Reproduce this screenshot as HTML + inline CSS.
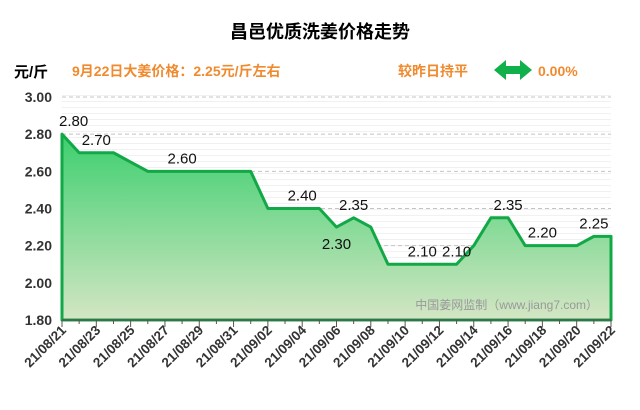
<!DOCTYPE html>
<html><head><meta charset="utf-8"><style>
body{margin:0;background:#fff;}
svg{display:block;font-family:"Liberation Sans","Noto Sans CJK SC",sans-serif;}
</style></head><body>
<svg id="c" width="640" height="410">
<defs><linearGradient id="g" x1="0" y1="0" x2="0" y2="1"><stop offset="0" stop-color="#3ccf6e"/><stop offset="1" stop-color="#d4e6c4"/></linearGradient>
<pattern id="st" width="10" height="6" patternUnits="userSpaceOnUse"><rect width="10" height="6" fill="#fff"/><rect y="5" width="10" height="1" fill="#f1f1f1"/></pattern></defs>
<text x="320" y="38" text-anchor="middle" font-size="18" font-weight="bold" fill="#000">昌邑优质洗姜价格走势</text>
<text x="14" y="77" font-size="15" font-weight="bold" fill="#000">元/斤</text>
<text x="72" y="76" font-size="14" font-weight="bold" fill="#f08a2e">9月22日大姜价格：2.25元/斤左右</text>
<text x="398" y="76" font-size="14" font-weight="bold" fill="#f08a2e">较昨日持平</text>
<path d="M494 70 L506 60 L506 66 L520 66 L520 60 L532 70 L520 80 L520 74 L506 74 L506 80 Z" fill="#10b04a"/>
<text x="538" y="76" font-size="14" font-weight="bold" fill="#f08a2e">0.00%</text>
<rect x="62" y="90" width="549" height="230" fill="url(#st)"/>
<g id="grid"></g><g id="area"></g><g id="axes"></g><g id="labels"></g>
<text x="598" y="309" text-anchor="end" font-size="12" fill="#999">中国姜网监制（www.jiang7.com）</text>
</svg>
<script>
const dates=["21/08/21","21/08/22","21/08/23","21/08/24","21/08/25","21/08/26","21/08/27","21/08/28","21/08/29","21/08/30","21/08/31","21/09/01","21/09/02","21/09/03","21/09/04","21/09/05","21/09/06","21/09/07","21/09/08","21/09/09","21/09/10","21/09/11","21/09/12","21/09/13","21/09/14","21/09/15","21/09/16","21/09/17","21/09/18","21/09/19","21/09/20","21/09/21","21/09/22"];
const prices=[2.80,2.70,2.70,2.70,2.65,2.60,2.60,2.60,2.60,2.60,2.60,2.60,2.40,2.40,2.40,2.40,2.30,2.35,2.30,2.10,2.10,2.10,2.10,2.10,2.20,2.35,2.35,2.20,2.20,2.20,2.20,2.25,2.25];
const yTicks=[1.80,2.00,2.20,2.40,2.60,2.80,3.00];
const labelIdx=[0,2,7,14,16,17,21,23,26,28,31];
const labelBelow=[16];
const NS="http://www.w3.org/2000/svg";
const X0=62,X1=611,Y0=320,Y1=97;
const xs=i=>X0+(X1-X0)*i/(dates.length-1);
const ys=v=>Y0-(v-1.8)/(3.0-1.8)*(Y0-Y1);
function mk(t,a,p){const e=document.createElementNS(NS,t);for(const k in a)e.setAttribute(k,a[k]);p.appendChild(e);return e;}
const grid=document.getElementById('grid'),axes=document.getElementById('axes'),area=document.getElementById('area'),lab=document.getElementById('labels');
yTicks.forEach(v=>{
 if(v>1.8){const l=mk('line',{x1:X0,x2:X1,y1:ys(v),y2:ys(v),stroke:'#c4c4c4','stroke-dasharray':'4,3'},grid);
 
 }
 const t=mk('text',{x:52,y:ys(v)+5,'text-anchor':'end','font-size':14,'font-weight':'bold',fill:'#333'},axes);t.textContent=v.toFixed(2);
 
 
});
let d='M'+xs(0)+' '+Y0;prices.forEach((v,i)=>d+=' L'+xs(i)+' '+ys(v));d+=' L'+xs(prices.length-1)+' '+Y0+' Z';
const a=mk('path',{d:d,fill:'url(#g)',stroke:'#12a848','stroke-width':3,'stroke-linejoin':'round'},area);


const ax=mk('line',{x1:X0,x2:X1,y1:Y0,y2:Y0,stroke:'#555','stroke-width':1.5},axes);


dates.forEach((s,i)=>{
 const tk=mk('line',{x1:xs(i),x2:xs(i),y1:Y0,y2:Y0+(i%2?4:7),stroke:'#555'},axes);
 
 
 if(i%2==0){const x=xs(i)+5,y=Y0+11;
  const t=mk('text',{x:x,y:y,'text-anchor':'end','font-size':13.5,'font-weight':'bold',fill:'#333',transform:'rotate(-45 '+x+' '+y+')'},axes);t.textContent=s;
  
  }
});
labelIdx.forEach(i=>{
 const below=labelBelow.includes(i);
 const t=mk('text',{x:xs(i),y:ys(prices[i])+(below?22:-8),'text-anchor':i==0?'start':'middle','font-size':15,fill:'#111'},lab);
 if(i==0)t.setAttribute('x',xs(0)-3);
 t.textContent=prices[i].toFixed(2);
 
 
});
</script>
</body></html>
